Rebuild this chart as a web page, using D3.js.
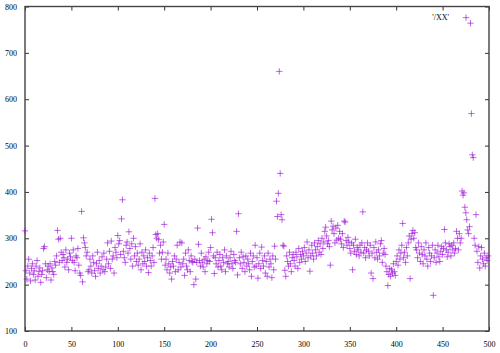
<!DOCTYPE html>
<html>
<head>
  <title>XX scatter</title>
  <script src="https://cdn.jsdelivr.net/npm/d3@7"></script>
  <style>
    body { margin: 0; background: #fff; }
    text { font-family: "Liberation Serif", serif; font-size: 8px; fill: #000; }
  </style>
</head>
<body>
  <div id="chart"></div>
  <script>
    // values, one per x = 0..499
    const yValues = [
      316, 230, 212, 240, 255, 225, 208, 235, 245, 222,
      230, 210, 240, 252, 218, 228, 236, 205, 222, 230,
      278, 282, 245, 215, 232, 240, 228, 245, 210, 236,
      228, 222, 250, 242, 262, 317, 298, 248, 300, 270,
      252, 265, 258, 238, 275, 248, 255, 232, 268, 260,
      300, 252, 275, 248, 230, 262, 258, 278, 242, 225,
      220, 358, 206, 301, 290, 280, 262, 270, 228, 232,
      255, 240, 225, 262, 248, 230, 218, 245, 270, 235,
      252, 225, 240, 260, 232, 268, 228, 238, 255, 290,
      245, 272, 235, 294, 255, 262, 225, 280, 270, 258,
      306, 288, 295, 265, 342, 383, 272, 258, 248, 285,
      292, 268, 314, 278, 255, 288, 240, 300, 262, 282,
      250, 268, 242, 255, 288, 232, 270, 245, 262, 250,
      275, 240, 258, 226, 268, 252, 240, 262, 280, 248,
      386, 308, 300, 310, 297, 268, 285, 255, 270, 292,
      330, 242, 255, 232, 268, 245, 225, 238, 212, 250,
      240, 262, 228, 255, 285, 232, 248, 292, 238, 290,
      245, 255, 220, 268, 240, 232, 275, 252, 228, 262,
      250, 248, 200, 255, 212, 248, 322, 287, 252, 240,
      268, 248, 238, 255, 228, 260, 245, 252, 270, 250,
      280, 341, 312, 262, 224, 258, 245, 270, 238, 252,
      265, 240, 232, 258, 248, 275, 228, 262, 245, 250,
      238, 258, 272, 245, 235, 265, 252, 248, 315, 221,
      353, 258, 245, 270, 235, 260, 248, 228, 262, 240,
      255, 245, 232, 268, 218, 250, 262, 238, 285, 240,
      258, 214, 245, 268, 235, 281, 252, 240, 262, 225,
      250, 218, 268, 238, 255, 245, 215, 262, 232, 283,
      255, 380, 347, 397, 660, 440, 351, 340, 285, 283,
      231, 218, 262, 250, 240, 270, 245, 228, 258, 265,
      252, 240, 270, 260, 235, 278, 248, 265, 255, 272,
      262, 280, 250, 268, 292, 258, 275, 229, 262, 285,
      268, 255, 290, 275, 262, 282, 295, 270, 288, 265,
      300, 278, 292, 315, 324, 305, 288, 295, 282, 242,
      337, 318, 326, 310, 290, 322, 296, 328, 300, 315,
      298, 288, 310, 280, 337, 335, 295, 285, 302, 292,
      278, 268, 290, 232, 285, 272, 298, 265, 280, 275,
      262, 285, 270, 290, 357, 268, 280, 258, 275, 290,
      272, 262, 285, 225, 268, 213, 280, 258, 292, 270,
      255, 275, 262, 288, 295, 248, 268, 278, 265, 240,
      228, 198, 222, 235, 218, 232, 225, 245, 228, 220,
      250, 262, 242, 275, 255, 268, 285, 332, 258, 270,
      248, 280, 262, 290, 305, 213, 298, 310, 317, 300,
      312, 280, 275, 258, 290, 268, 250, 282, 265, 245,
      275, 262, 290, 255, 240, 280, 268, 250, 262, 285,
      177, 258, 275, 248, 268, 285, 260, 250, 272, 282,
      265, 278, 319, 290, 275, 260, 270, 288, 282, 262,
      285, 275, 290, 268, 278, 315, 300, 275, 310, 290,
      300, 402, 393, 398, 367, 355, 340, 318, 310, 325,
      764, 569, 480, 474, 300, 285, 351, 272, 248, 282,
      236, 262, 280, 255, 245, 268, 240, 258, 252, 262
    ]
    const xTicks = [0, 50, 100, 150, 200, 250, 300, 350, 400, 450, 500]
    const yTicks = [100, 200, 300, 400, 500, 600, 700, 800]
    const seriesTitle = "'/XX'"

    const width = 500
    const height = 353
    const margin = { left: 25, right: 11, top: 6.5, bottom: 22 }
    const color = "#9400d3"

    const data = yValues.map((v, i) => ({ x: i, y: v }))

    const svg = d3.select("#chart")
      .append("svg")
      .attr("width", width)
      .attr("height", height)

    const x = d3.scaleLinear().domain([0, 500]).range([margin.left, width - margin.right])
    const y = d3.scaleLinear().domain([100, 800]).range([height - margin.bottom, margin.top])

    const tickLen = 4

    // bottom axis, ticks pointing in
    svg.append("g")
      .attr("transform", `translate(0,${y(100)})`)
      .call(d3.axisBottom(x).tickValues(xTicks).tickSizeInner(-tickLen).tickSizeOuter(0).tickPadding(10))
      .call(g => g.select(".domain").remove())
    // top mirror
    svg.append("g")
      .attr("transform", `translate(0,${y(800)})`)
      .call(d3.axisTop(x).tickValues(xTicks).tickSizeInner(-tickLen).tickSizeOuter(0).tickFormat(""))
      .call(g => g.select(".domain").remove())
    // left axis
    svg.append("g")
      .attr("transform", `translate(${x(0)},0)`)
      .call(d3.axisLeft(y).tickValues(yTicks).tickSizeInner(-tickLen).tickSizeOuter(0).tickPadding(8))
      .call(g => g.select(".domain").remove())
    // right mirror
    svg.append("g")
      .attr("transform", `translate(${x(500)},0)`)
      .call(d3.axisRight(y).tickValues(yTicks).tickSizeInner(-tickLen).tickSizeOuter(0).tickFormat(""))
      .call(g => g.select(".domain").remove())

    svg.selectAll(".tick line").attr("stroke", "#333").attr("stroke-width", 1)
    svg.selectAll(".tick text")
      .attr("font-family", "Liberation Serif, serif")
      .attr("font-size", 8)
      .attr("fill", "#000")

    // frame
    svg.append("rect")
      .attr("x", x(0))
      .attr("y", y(800))
      .attr("width", x(500) - x(0))
      .attr("height", y(100) - y(800))
      .attr("fill", "none")
      .attr("stroke", "#444")
      .attr("stroke-width", 1.4)

    const r = 3.2
    function plus(sel) {
      sel.append("line").attr("x1", -r).attr("x2", r).attr("y1", 0).attr("y2", 0)
      sel.append("line").attr("x1", 0).attr("x2", 0).attr("y1", -r).attr("y2", r)
    }

    const points = svg.append("g")
      .attr("stroke", color)
      .attr("stroke-width", 1)
      .attr("stroke-opacity", 0.6)
      .selectAll("g")
      .data(data)
      .enter()
      .append("g")
      .attr("transform", d => `translate(${x(d.x)},${y(d.y)})`)
    points.call(plus)

    // key
    const key = svg.append("g").attr("transform", `translate(449,${y(776)})`)
    key.append("text")
      .attr("text-anchor", "end")
      .attr("dy", "0.35em")
      .text(seriesTitle)
    key.append("g")
      .attr("transform", "translate(17,0)")
      .attr("stroke", color)
      .attr("stroke-width", 1)
      .attr("stroke-opacity", 0.6)
      .call(plus)
  </script>
</body>
</html>
